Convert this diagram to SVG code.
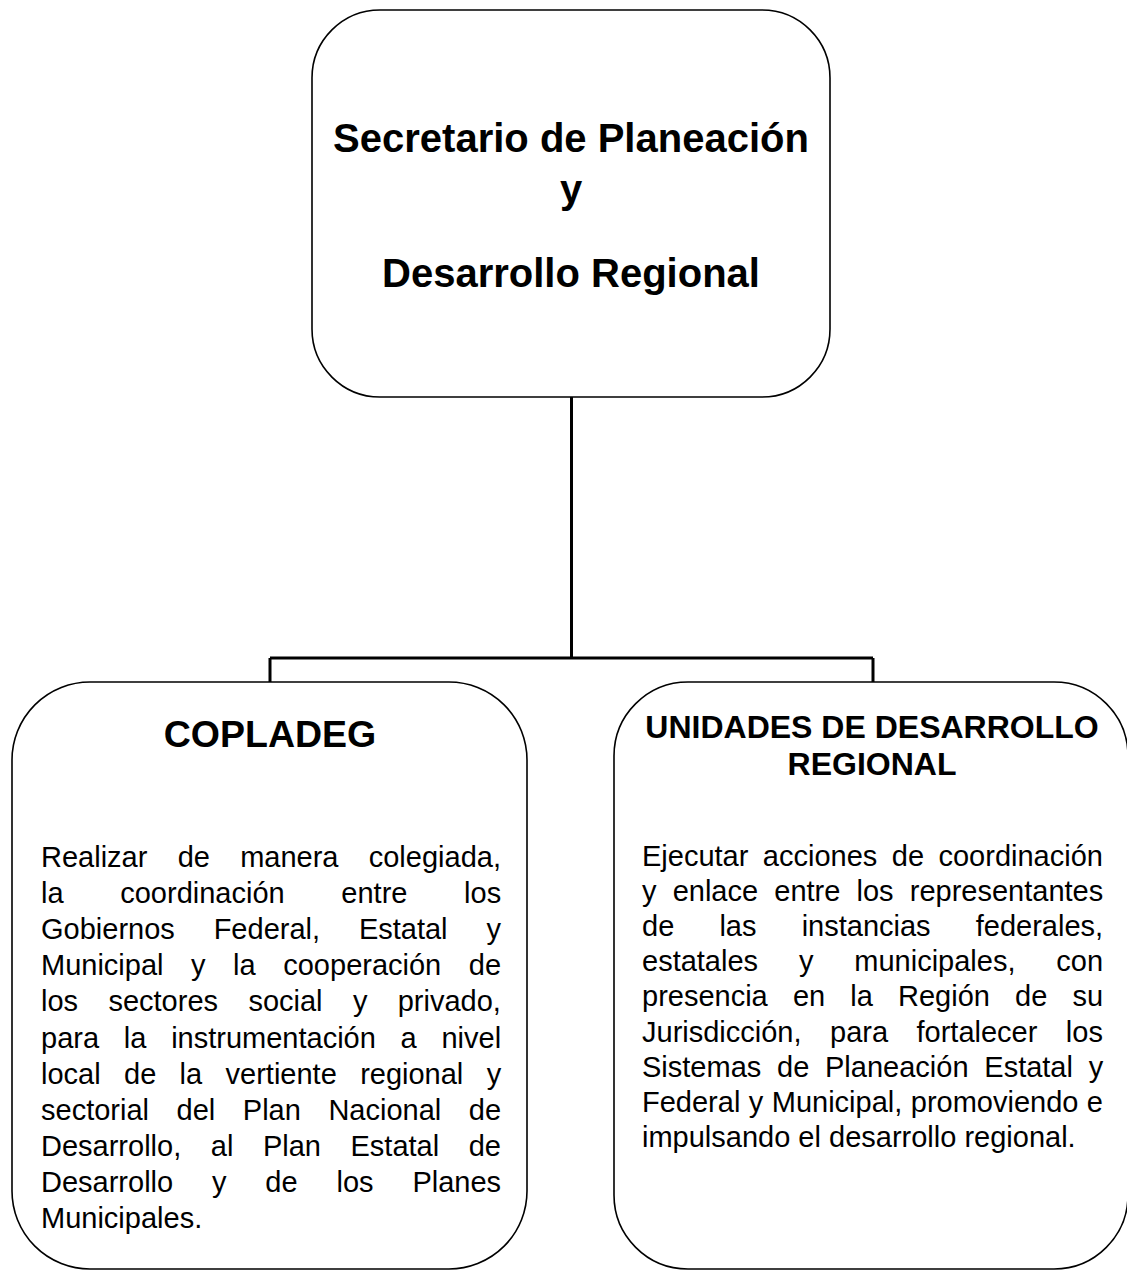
<svg xmlns="http://www.w3.org/2000/svg" width="1127" height="1271" viewBox="0 0 1127 1271">
<style>
.box{fill:#fff;stroke:#000;stroke-width:1.6}
.conn{fill:none;stroke:#000;stroke-width:3}
text{font-family:"Liberation Sans",Arial,sans-serif;fill:#000;font-kerning:none}
.title{font-size:40px;font-weight:bold;text-anchor:middle}
.head{font-weight:bold;text-anchor:middle}
.body{font-size:29px}
</style>
<rect width="1127" height="1271" fill="#fff"/>
<g id="connectors">
<path class="conn" d="M571.5 397V658M270 658H873M270 658V682M873 658V682"/>
</g>
<g id="node-secretario">
<rect class="box" x="312" y="10" width="518" height="387" rx="68" ry="68"/>
<text class="title" x="571" y="152">Secretario de Planeación</text>
<text class="title" x="571" y="203">y</text>
<text class="title" x="571" y="287">Desarrollo Regional</text>
</g>
<g id="node-copladeg">
<rect class="box" x="12" y="682" width="515" height="587" rx="78" ry="78"/>
<text class="head" x="270" y="747" font-size="37.5">COPLADEG</text>
<text class="body" x="41" y="867" word-spacing="22.2">Realizar de manera colegiada,</text>
<text class="body" x="41" y="903.1" word-spacing="48.6">la coordinación entre los</text>
<text class="body" x="41" y="939.2" word-spacing="30.8">Gobiernos Federal, Estatal y</text>
<text class="body" x="41" y="975.3" word-spacing="19.5">Municipal y la cooperación de</text>
<text class="body" x="41" y="1011.4" word-spacing="22.3">los sectores social y privado,</text>
<text class="body" x="41" y="1047.5" word-spacing="16.7">para la instrumentación a nivel</text>
<text class="body" x="41" y="1083.6" word-spacing="15.3">local de la vertiente regional y</text>
<text class="body" x="41" y="1119.7" word-spacing="19.5">sectorial del Plan Nacional de</text>
<text class="body" x="41" y="1155.8" word-spacing="21.5">Desarrollo, al Plan Estatal de</text>
<text class="body" x="41" y="1191.9" word-spacing="30.8">Desarrollo y de los Planes</text>
<text class="body" x="41" y="1228">Municipales.</text>
</g>
<g id="node-unidades">
<rect class="box" x="614" y="682" width="514" height="587" rx="74" ry="74"/>
<text class="head" x="872" y="738" font-size="32">UNIDADES DE DESARROLLO</text>
<text class="head" x="872" y="775" font-size="32">REGIONAL</text>
<text class="body" x="642" y="866" word-spacing="6.4">Ejecutar acciones de coordinación</text>
<text class="body" x="642" y="901.1" word-spacing="8.1">y enlace entre los representantes</text>
<text class="body" x="642" y="936.2" word-spacing="37.1">de las instancias federales,</text>
<text class="body" x="642" y="971.3" word-spacing="32.8">estatales y municipales, con</text>
<text class="body" x="642" y="1006.4" word-spacing="17.1">presencia en la Región de su</text>
<text class="body" x="642" y="1041.5" word-spacing="20.4">Jurisdicción, para fortalecer los</text>
<text class="body" x="642" y="1076.6" word-spacing="7.7">Sistemas de Planeación Estatal y</text>
<text class="body" x="642" y="1111.7" word-spacing="0.4">Federal y Municipal, promoviendo e</text>
<text class="body" x="642" y="1146.8">impulsando el desarrollo regional.</text>
</g>
</svg>
